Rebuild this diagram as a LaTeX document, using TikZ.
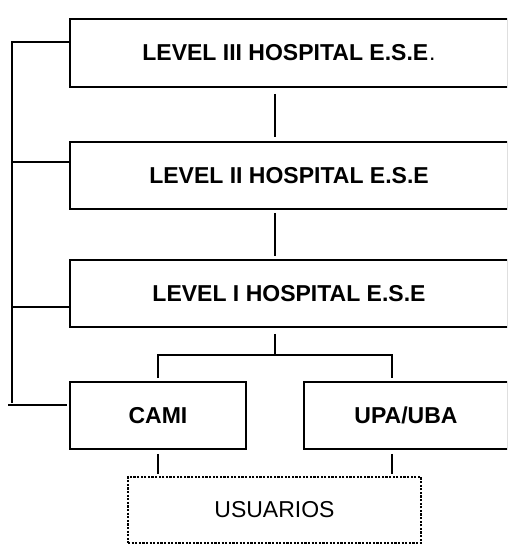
\documentclass[tikz,border=0pt]{standalone}
\usepackage{fontspec}
\setmainfont{Liberation Sans}
\tikzset{
	level/.style={draw,line width=1.6pt,inner sep=0pt,minimum height=67pt,font=\fontsize{23}{27}\selectfont\bfseries},
	users/.style={draw,line width=2.4pt,dash pattern=on 2.2pt off 1.4pt,inner sep=0pt,minimum width=293pt,minimum height=66pt,font=\fontsize{23}{27}\selectfont},
	link/.style={line width=1.6pt}
}
\begin{document}
\begin{tikzpicture}[x=1pt,y=-1pt]
	\useasboundingbox(0,0)rectangle(507,544);
	\clip(0,0)rectangle(507,544);
	\node[level,minimum width=438pt,minimum height=68pt](lvlIII)at(289,53){LEVEL III HOSPITAL E.S.E\kern1pt{\mdseries .}};
	\node[level,minimum width=438pt](lvlII)at(289,175.5){LEVEL II HOSPITAL E.S.E};
	\node[level,minimum width=438pt](lvlI)at(289,293.5){LEVEL I HOSPITAL E.S.E};
	\node[level,minimum width=176pt](cami)at(158,415.5){CAMI};
	\node[level,minimum width=204pt](upa)at(406,415.5){UPA/UBA};
	\node[users](usuarios)at(274.5,510){USUARIOS};
	% chain of levels
	\coordinate(mid)at(275,0);
	\draw[link,shorten <=6pt,shorten >=4pt](lvlIII.south -| mid)--(lvlII.north -| mid);
	\draw[link,shorten <=3pt,shorten >=3pt](lvlII.south -| mid)--(lvlI.north -| mid);
	% fork to CAMI and UPA/UBA
	\coordinate(fork)at(275,355);
	\coordinate(ca)at(158,355);
	\coordinate(ua)at(392,355);
	\draw[link,shorten <=6pt](lvlI.south -| fork)--(fork);
	\draw[link,shorten <=3pt,shorten >=3pt](ca |- cami.north)--(ca)--(ua)--(ua |- upa.north);
	\draw[link,shorten <=4pt,shorten >=2pt](ca |- cami.south)--(ca |- usuarios.north);
	\draw[link,shorten <=4pt,shorten >=2pt](ua |- upa.south)--(ua |- usuarios.north);
	% left spine
	\coordinate(s1)at(12,42);
	\coordinate(s2)at(12,162);
	\coordinate(s3)at(12,307);
	\coordinate(s4)at(12,403);
	\coordinate(stub)at(8,405);
	\draw[link](s1 -| lvlIII.west)--(s1)--(s4);
	\draw[link](s2)--(s2 -| lvlII.west);
	\draw[link](s3)--(s3 -| lvlI.west);
	\draw[link,shorten >=2pt](stub)--(stub -| cami.west);
\end{tikzpicture}
\end{document}
